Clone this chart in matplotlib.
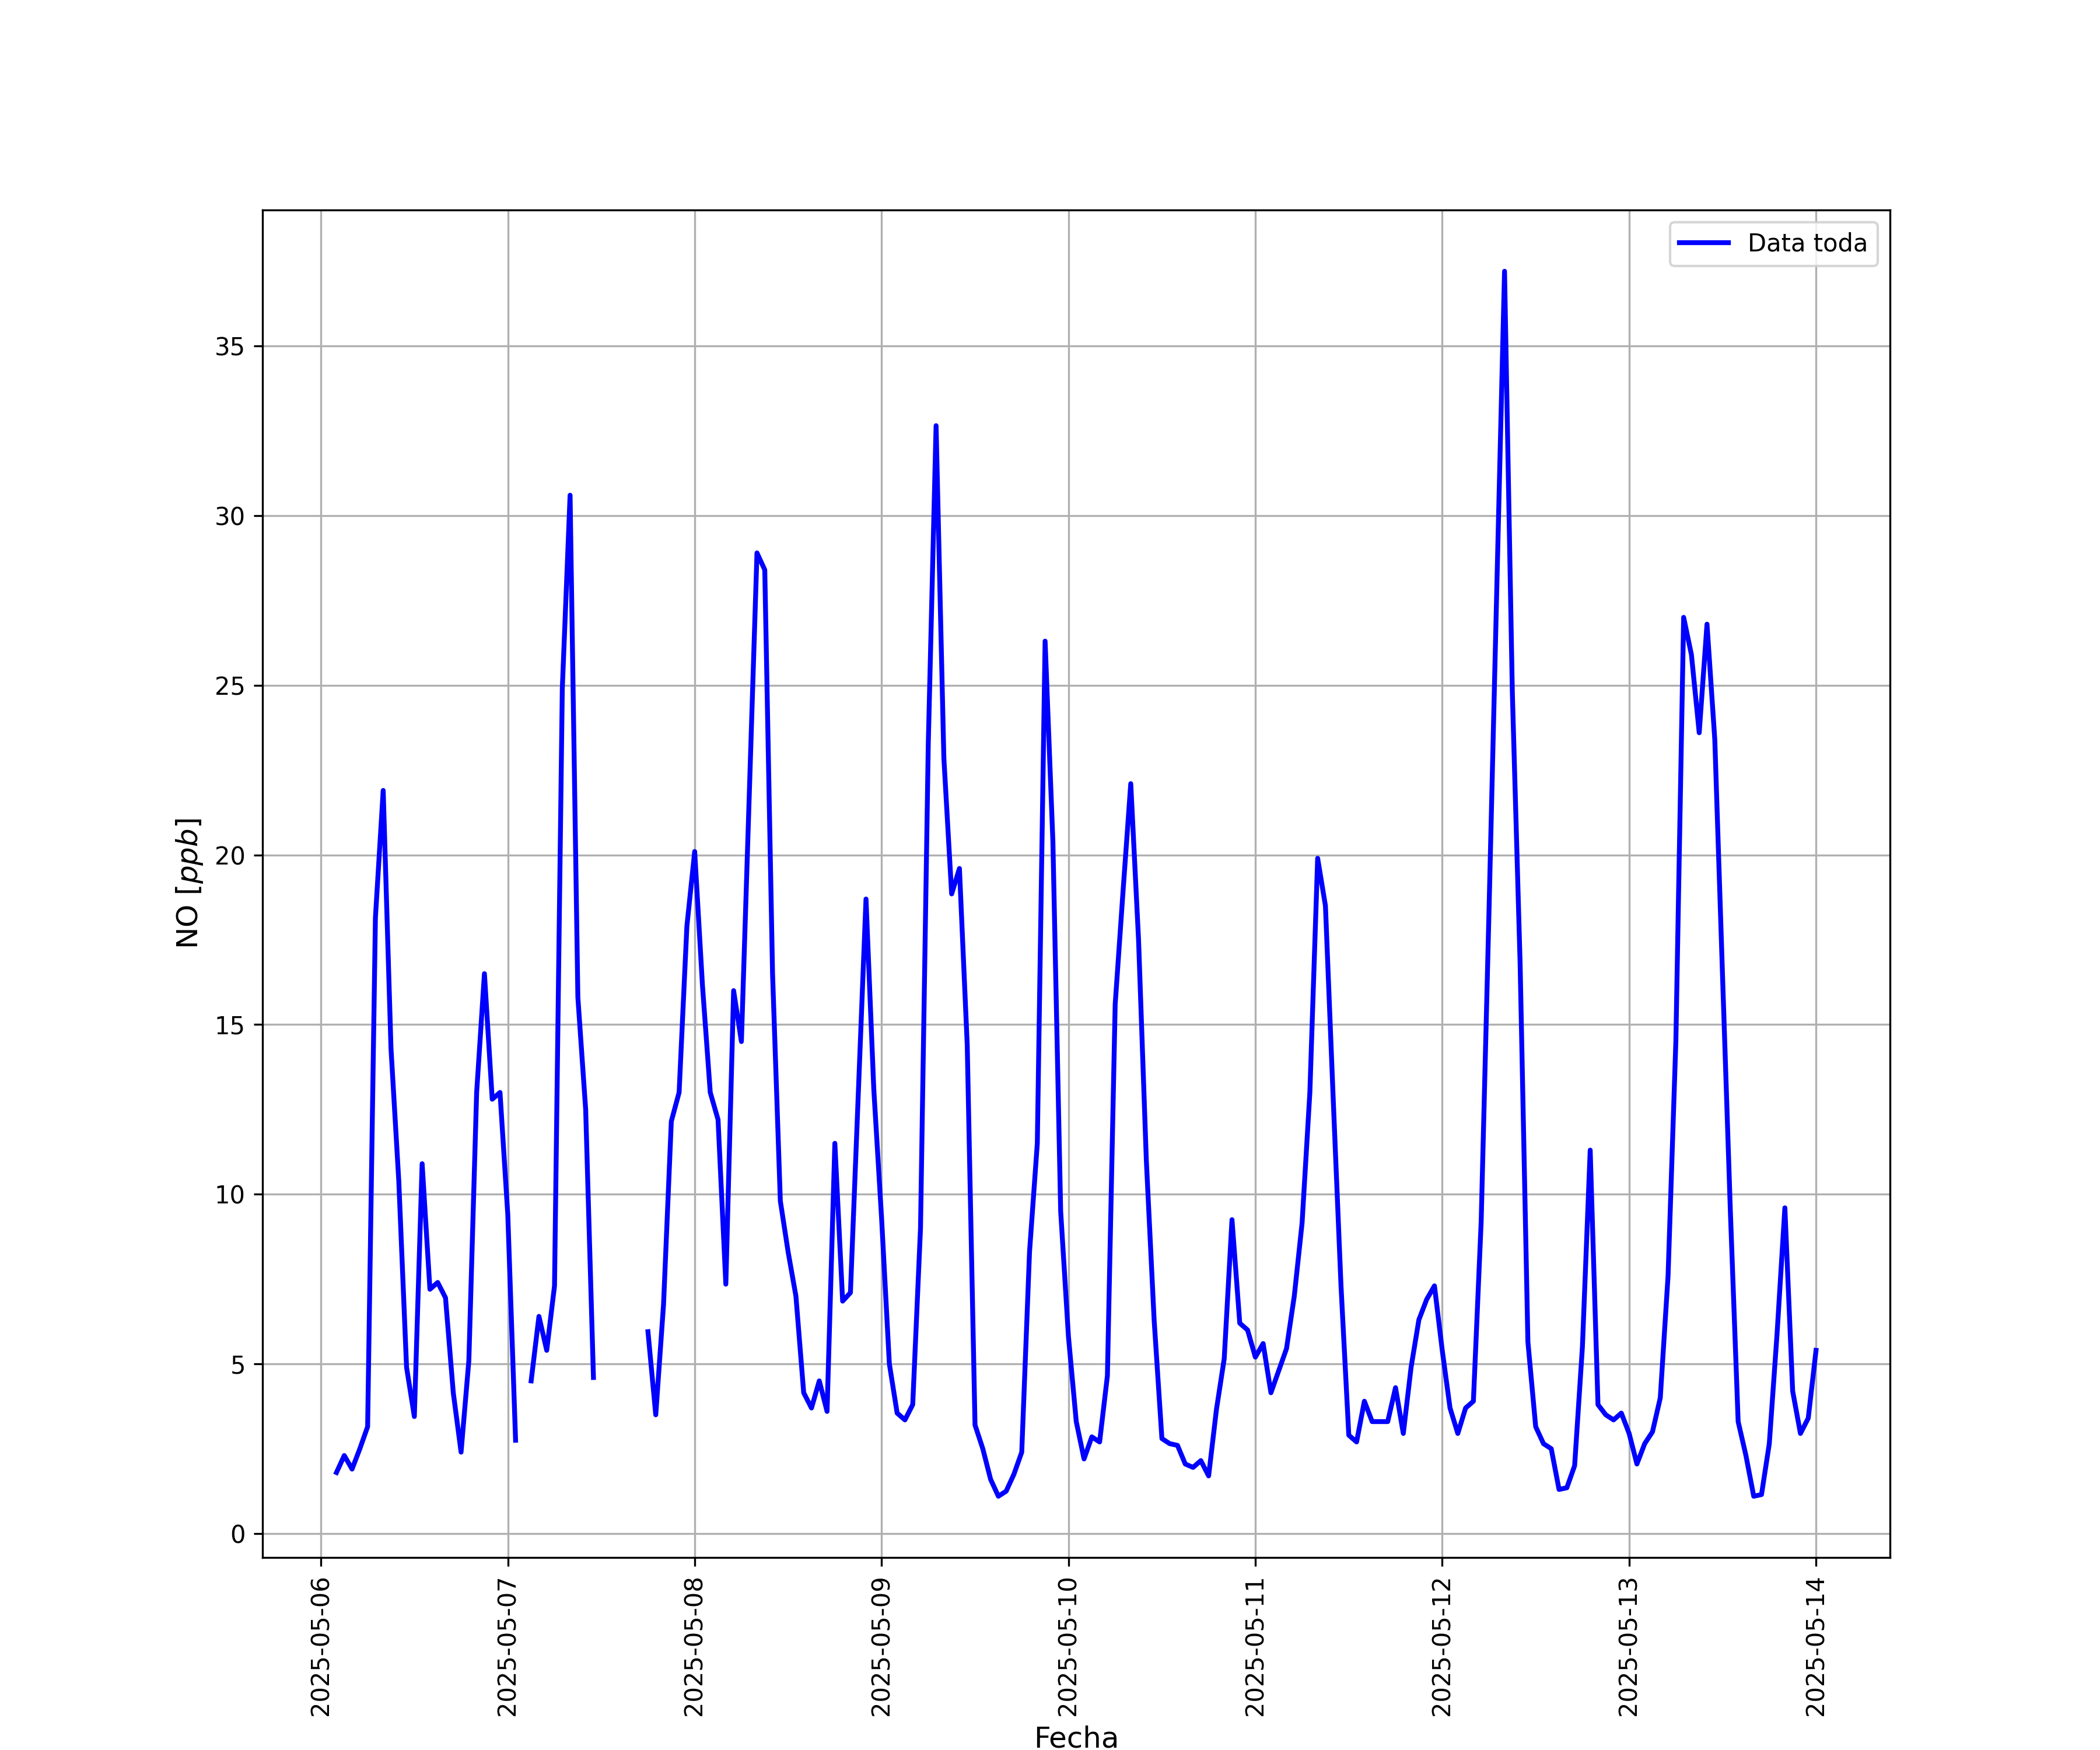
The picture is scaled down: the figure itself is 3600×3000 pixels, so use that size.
import numpy as np
import pandas as pd
import matplotlib
matplotlib.use('Agg')
import matplotlib.pyplot as plt
import matplotlib.dates as mdates

nan = np.nan

# hourly NO values (ppb), one list per day
day_0506 = [1.8, 2.3, 1.9, 2.5, 3.15, 18.15, 21.9, 14.3, 10.4, 4.9, 3.45, 10.9,
            7.2, 7.4, 6.95, 4.15, 2.4, 5.1, 13.0, 16.5, 12.8, 13.0]  # starts 02:00
day_0507 = [9.4, 2.75, nan, 4.5, 6.4, 5.4, 7.3, 24.9, 30.6, 15.8, 12.5, 4.6,
            nan, nan, nan, nan, nan, nan, 5.95, 3.5, 6.75, 12.15, 13.0, 17.9]
day_0508 = [20.1, 16.15, 13.0, 12.2, 7.35, 16.0, 14.5, 21.7, 28.9, 28.4, 16.5, 9.8,
            8.3, 7.0, 4.15, 3.7, 4.5, 3.6, 11.5, 6.85, 7.1, 12.9, 18.7, 13.1]
day_0509 = [9.3, 5.0, 3.55, 3.35, 3.8, 9.0, 23.3, 32.65, 22.85, 18.85, 19.6, 14.4,
            3.2, 2.5, 1.6, 1.1, 1.25, 1.75, 2.4, 8.3, 11.5, 26.3, 20.4, 9.5]
day_0510 = [5.8, 3.3, 2.2, 2.85, 2.7, 4.65, 15.6, 18.9, 22.1, 17.5, 11.0, 6.3,
            2.8, 2.65, 2.6, 2.05, 1.95, 2.15, 1.7, 3.65, 5.15, 9.25, 6.2, 6.0]
day_0511 = [5.2, 5.6, 4.15, 4.8, 5.45, 7.0, 9.15, 13.0, 19.9, 18.5, 12.8, 7.3,
            2.9, 2.7, 3.9, 3.3, 3.3, 3.3, 4.3, 2.95, 4.9, 6.3, 6.9, 7.3]
day_0512 = [5.4, 3.7, 2.95, 3.7, 3.9, 9.2, 18.3, 27.8, 37.2, 24.8, 16.8, 5.65,
            3.15, 2.65, 2.5, 1.3, 1.35, 2.0, 5.5, 11.3, 3.8, 3.5, 3.35, 3.55]
day_0513 = [2.95, 2.05, 2.65, 3.0, 4.0, 7.6, 14.5, 27.0, 25.9, 23.6, 26.8, 23.4,
            16.4, 9.5, 3.3, 2.3, 1.1, 1.15, 2.65, 5.9, 9.6, 4.2, 2.95, 3.4]
day_0514 = [5.4]  # 00:00

values = (day_0506 + day_0507 + day_0508 + day_0509 + day_0510 + day_0511
          + day_0512 + day_0513 + day_0514)
fechas = pd.date_range('2025-05-06 02:00', periods=len(values), freq='h')

fig, ax = plt.subplots(figsize=(12, 10))
ax.plot(fechas, values, color='blue', linewidth=2, label='Data toda')
ax.set_xlabel('Fecha', fontsize=12)
ax.set_ylabel('NO [$ppb$]', fontsize=12)
ax.xaxis.set_major_locator(mdates.DayLocator())
ax.xaxis.set_major_formatter(mdates.DateFormatter('%Y-%m-%d'))
plt.xticks(rotation=90)
ax.grid(True)
ax.legend(loc='upper right')

plt.savefig('out.png', dpi=300)
